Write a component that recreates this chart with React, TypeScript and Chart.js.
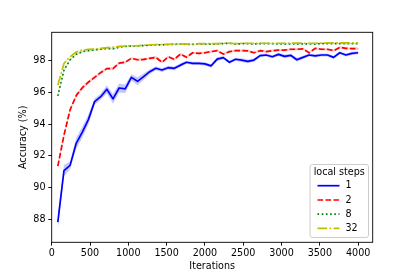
import React, { useEffect, useRef } from "react";
import { Chart, registerables } from "chart.js";

Chart.register(...registerables);

// ---- data ----
const iterations = [
  80, 160, 240, 320, 400, 480, 560, 640, 720, 800,
  880, 960, 1040, 1120, 1200, 1280, 1360, 1440, 1520, 1600,
  1680, 1760, 1840, 1920, 2000, 2080, 2160, 2240, 2320, 2400,
  2480, 2560, 2640, 2720, 2800, 2880, 2960, 3040, 3120, 3200,
  3280, 3360, 3440, 3520, 3600, 3680, 3760, 3840, 3920, 4000,
];

const acc1 = [
  87.82, 91.07, 91.4, 92.79, 93.5, 94.3, 95.42, 95.73, 96.2, 95.59,
  96.28, 96.22, 96.95, 96.7, 97.0, 97.31, 97.52, 97.41, 97.56, 97.52,
  97.72, 97.9, 97.83, 97.83, 97.8, 97.67, 98.1, 98.19, 97.9, 98.09,
  98.04, 97.96, 98.04, 98.32, 98.36, 98.25, 98.4, 98.27, 98.34, 98.06,
  98.21, 98.36, 98.3, 98.36, 98.36, 98.21, 98.5, 98.36, 98.46, 98.5,
];
const std1 = [
  0.45, 0.35, 0.25, 0.35, 0.35, 0.3, 0.2, 0.2, 0.25, 0.3,
  0.28, 0.28, 0.2, 0.25, 0.2, 0.15, 0.12, 0.12, 0.12, 0.12,
  0.12, 0.1, 0.1, 0.1, 0.1, 0.1, 0.12, 0.1, 0.1, 0.1,
  0.12, 0.12, 0.1, 0.1, 0.1, 0.1, 0.1, 0.12, 0.1, 0.12,
  0.1, 0.1, 0.1, 0.1, 0.1, 0.1, 0.1, 0.1, 0.1, 0.1,
];

const acc2 = [
  91.35, 93.3, 94.9, 95.8, 96.3, 96.65, 96.95, 97.25, 97.5, 97.5,
  97.85, 97.9, 98.15, 98.06, 98.08, 98.15, 98.21, 97.9, 98.25, 98.08,
  98.42, 98.21, 98.5, 98.46, 98.5, 98.57, 98.63, 98.42, 98.57, 98.63,
  98.63, 98.62, 98.5, 98.63, 98.57, 98.63, 98.67, 98.67, 98.72, 98.72,
  98.74, 98.5, 98.78, 98.72, 98.72, 98.63, 98.84, 98.78, 98.76, 98.76,
];
const std2 = [
  0.18, 0.14, 0.12, 0.12, 0.1, 0.1, 0.09, 0.09, 0.09, 0.09,
  0.08, 0.08, 0.08, 0.08, 0.08, 0.08, 0.08, 0.08, 0.08, 0.08,
  0.08, 0.07, 0.07, 0.07, 0.07, 0.07, 0.07, 0.07, 0.07, 0.07,
  0.07, 0.07, 0.07, 0.07, 0.07, 0.07, 0.07, 0.07, 0.07, 0.07,
  0.07, 0.07, 0.07, 0.07, 0.07, 0.07, 0.07, 0.07, 0.07, 0.07,
];

const acc8 = [
  95.78, 97.4, 98.05, 98.4, 98.57, 98.63, 98.68, 98.72, 98.77, 98.75,
  98.85, 98.9, 98.92, 98.93, 98.95, 98.97, 99.0, 99.0, 99.02, 99.03,
  99.05, 99.03, 99.03, 99.05, 99.05, 99.04, 99.05, 99.08, 99.1, 99.05,
  99.07, 99.07, 99.06, 99.07, 99.08, 99.07, 99.06, 99.05, 99.06, 99.05,
  99.06, 99.06, 99.05, 99.08, 99.08, 99.07, 99.08, 99.07, 99.08, 99.07,
];
const acc32 = [
  96.45, 97.82, 98.25, 98.55, 98.67, 98.72, 98.74, 98.78, 98.82, 98.85,
  98.9, 98.92, 98.94, 98.95, 98.97, 99.0, 99.02, 99.02, 99.03, 99.05,
  99.06, 99.05, 99.06, 99.07, 99.08, 99.08, 99.08, 99.1, 99.1, 99.08,
  99.1, 99.1, 99.09, 99.1, 99.1, 99.1, 99.1, 99.1, 99.1, 99.11,
  99.1, 99.1, 99.1, 99.11, 99.12, 99.12, 99.12, 99.12, 99.12, 99.12,
];
const stdSmall = [
  0.1, 0.08, 0.05, 0.04, 0.04, 0.04, 0.04, 0.04, 0.04, 0.04,
  0.03, 0.03, 0.03, 0.03, 0.03, 0.03, 0.03, 0.03, 0.03, 0.03,
  0.03, 0.03, 0.03, 0.03, 0.03, 0.03, 0.03, 0.03, 0.03, 0.03,
  0.03, 0.03, 0.03, 0.03, 0.03, 0.03, 0.03, 0.03, 0.03, 0.03,
  0.03, 0.03, 0.03, 0.03, 0.03, 0.03, 0.03, 0.03, 0.03, 0.03,
];

const xTicks = [0, 500, 1000, 1500, 2000, 2500, 3000, 3500, 4000];
const yTicks = [88, 90, 92, 94, 96, 98];
const xLabel = "Iterations";
const yLabel = "Accuracy (%)";
const legendTitle = "local steps";
const seriesLabels = ["1", "2", "8", "32"];

const FONT = "'DejaVu Sans', sans-serif";
const FS = 9.6;
const LW = 1.7;

const styles = [
  { color: "#0000ff", band: "rgba(0,0,255,0.22)", dash: [] as number[] },
  { color: "#ff0000", band: "rgba(255,0,0,0.22)", dash: [5.6, 2.4] },
  { color: "#008000", band: "rgba(0,128,0,0.22)", dash: [1.6, 2.6] },
  { color: "#bfbf00", band: "rgba(191,191,0,0.22)", dash: [9.6, 2.4, 1.6, 2.4] },
];

const pts = (ys: number[]) => iterations.map((x, i) => ({ x, y: ys[i] }));
const shifted = (ys: number[], sd: number[], s: number) =>
  iterations.map((x, i) => ({ x, y: ys[i] + s * sd[i] }));

const framePlugin = {
  id: "frame",
  afterDatasetsDraw(chart: any) {
    const { ctx, chartArea: a } = chart;
    ctx.save();
    ctx.strokeStyle = "#000";
    ctx.lineWidth = 0.9;
    ctx.strokeRect(a.left, a.top, a.right - a.left, a.bottom - a.top);
    ctx.restore();
  },
};

const legendPlugin = {
  id: "mplLegend",
  afterDraw(chart: any) {
    const { ctx } = chart;
    const x0 = 310, y0 = 164.5, w = 58.5, h = 73;
    ctx.save();
    ctx.beginPath();
    const r = 2.5;
    ctx.moveTo(x0 + r, y0);
    ctx.arcTo(x0 + w, y0, x0 + w, y0 + h, r);
    ctx.arcTo(x0 + w, y0 + h, x0, y0 + h, r);
    ctx.arcTo(x0, y0 + h, x0, y0, r);
    ctx.arcTo(x0, y0, x0 + w, y0, r);
    ctx.closePath();
    ctx.fillStyle = "rgba(255,255,255,0.8)";
    ctx.fill();
    ctx.strokeStyle = "#cccccc";
    ctx.lineWidth = 1;
    ctx.stroke();

    ctx.font = `${FS}px ${FONT}`;
    ctx.fillStyle = "#000";
    ctx.textAlign = "center";
    ctx.textBaseline = "middle";
    ctx.fillText(legendTitle, x0 + w / 2, 172.7);

    const rows = [185.7, 200, 214.2, 228.4];
    seriesLabels.forEach((lab, i) => {
      const st = styles[i];
      ctx.beginPath();
      ctx.setLineDash(st.dash);
      ctx.strokeStyle = st.color;
      ctx.lineWidth = LW;
      ctx.lineCap = "butt";
      ctx.moveTo(317.5, rows[i]);
      ctx.lineTo(339.5, rows[i]);
      ctx.stroke();
      ctx.setLineDash([]);
      ctx.textAlign = "left";
      ctx.fillStyle = "#000";
      ctx.fillText(lab, 345.5, rows[i]);
    });
    ctx.restore();
  },
};

export default function App() {
  const ref = useRef<HTMLCanvasElement | null>(null);

  useEffect(() => {
    if (!ref.current) return;
    const series = [acc1, acc2, acc8, acc32];
    const stds = [std1, std2, stdSmall, stdSmall];
    const datasets: any[] = [];
    series.forEach((ys, i) => {
      datasets.push({
        data: shifted(ys, stds[i], -1),
        borderWidth: 0,
        pointRadius: 0,
        fill: false,
        order: 10 + i * 2,
      });
      datasets.push({
        data: shifted(ys, stds[i], 1),
        borderWidth: 0,
        pointRadius: 0,
        backgroundColor: styles[i].band,
        fill: "-1",
        order: 10 + i * 2,
      });
    });
    series.forEach((ys, i) => {
      datasets.push({
        label: seriesLabels[i],
        data: pts(ys),
        borderColor: styles[i].color,
        borderWidth: LW,
        borderDash: styles[i].dash,
        borderCapStyle: "butt",
        borderJoinStyle: "round",
        pointRadius: 0,
        tension: 0,
        fill: false,
        order: 4 - i,
      });
    });

    const chart = new Chart(ref.current, {
      type: "line",
      data: { datasets },
      options: {
        animation: false,
        responsive: false,
        maintainAspectRatio: false,
        layout: { padding: { left: 0, right: 42.3, top: 32.3, bottom: 0 } },
        plugins: {
          legend: { display: false },
          tooltip: { enabled: false },
        },
        scales: {
          x: {
            type: "linear",
            min: 0,
            max: 4190,
            border: { display: false },
            grid: {
              drawOnChartArea: false,
              drawTicks: true,
              tickLength: 3.4,
              tickWidth: 0.9,
              tickColor: "#000",
            },
            ticks: {
              padding: 2,
              color: "#000",
              font: { family: FONT, size: FS },
              maxRotation: 0,
              callback: (v: any) => String(v),
            },
            afterBuildTicks: (s: any) => {
              s.ticks = xTicks.map((v) => ({ value: v }));
            },
            afterFit: (s: any) => {
              s.height = 277 - 242.3;
            },
            title: {
              display: true,
              text: xLabel,
              color: "#000",
              font: { family: FONT, size: FS },
              padding: { top: 0, bottom: 5.2 },
            },
          },
          y: {
            type: "linear",
            min: 86.55,
            max: 99.79,
            border: { display: false },
            grid: {
              drawOnChartArea: false,
              drawTicks: true,
              tickLength: 3.4,
              tickWidth: 0.9,
              tickColor: "#000",
            },
            ticks: {
              padding: 2.8,
              color: "#000",
              font: { family: FONT, size: FS },
              callback: (v: any) => String(v),
            },
            afterBuildTicks: (s: any) => {
              s.ticks = yTicks.map((v) => ({ value: v }));
            },
            afterFit: (s: any) => {
              s.width = 51.7;
            },
            title: {
              display: true,
              text: yLabel,
              color: "#000",
              font: { family: FONT, size: FS },
              padding: { top: 18.2, bottom: 0 },
            },
          },
        },
      },
      plugins: [framePlugin, legendPlugin],
    });
    return () => chart.destroy();
  }, []);

  return (
    <div style={{ position: "fixed", left: 0, top: 0, width: 415, height: 277, background: "#fff" }}>
      <canvas ref={ref} width={415} height={277} style={{ display: "block", width: 415, height: 277 }} />
    </div>
  );
}
